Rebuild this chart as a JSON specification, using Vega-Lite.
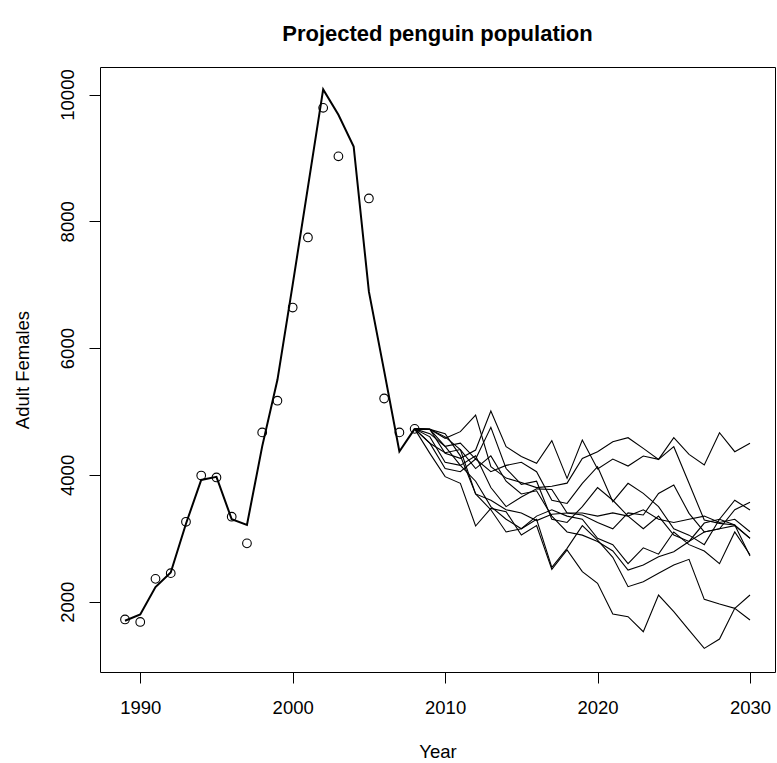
{
  "$schema": "https://vega.github.io/schema/vega-lite/v6.json",
  "autosize": "none",
  "width": 675,
  "height": 605,
  "padding": {"left": 100, "top": 67, "right": 2, "bottom": 91},
  "background": "white",
  "config": {
    "view": {"stroke": "black", "strokeWidth": 1},
    "font": "Liberation Sans",
    "axis": {
      "domain": false, "grid": false, "ticks": true, "tickColor": "black", "tickWidth": 1, "tickSize": 11,
      "labelFont": "Liberation Sans", "labelFontSize": 18.5, "labelColor": "black",
      "titleFont": "Liberation Sans", "titleFontSize": 18.5, "titleFontWeight": "normal", "titleColor": "black"
    }
  },
  "title": {"text": "Projected penguin population", "font": "Liberation Sans", "fontSize": 22, "fontWeight": "bold", "color": "black", "anchor": "middle", "baseline": "alphabetic", "offset": 4},
  "datasets": {
    "obs": [
      {"year": 1989, "females": 1720}, {"year": 1990, "females": 1680}, {"year": 1991, "females": 2360},
      {"year": 1992, "females": 2450}, {"year": 1993, "females": 3260}, {"year": 1994, "females": 3990},
      {"year": 1995, "females": 3960}, {"year": 1996, "females": 3340}, {"year": 1997, "females": 2920},
      {"year": 1998, "females": 4670}, {"year": 1999, "females": 5170}, {"year": 2000, "females": 6640},
      {"year": 2001, "females": 7745}, {"year": 2002, "females": 9790}, {"year": 2003, "females": 9025},
      {"year": 2005, "females": 8360}, {"year": 2006, "females": 5205}, {"year": 2007, "females": 4670},
      {"year": 2008, "females": 4726}
    ],
    "fit": [
      {"year": 1989, "females": 1700}, {"year": 1990, "females": 1800}, {"year": 1991, "females": 2230},
      {"year": 1992, "females": 2460}, {"year": 1993, "females": 3230}, {"year": 1994, "females": 3920},
      {"year": 1995, "females": 3970}, {"year": 1996, "females": 3300}, {"year": 1997, "females": 3210},
      {"year": 1998, "females": 4450}, {"year": 1999, "females": 5500}, {"year": 2000, "females": 7000},
      {"year": 2001, "females": 8540}, {"year": 2002, "females": 10080}, {"year": 2003, "females": 9680},
      {"year": 2004, "females": 9180}, {"year": 2005, "females": 6890}, {"year": 2006, "females": 5640},
      {"year": 2007, "females": 4370}, {"year": 2008, "females": 4726}
    ],
    "sims": [
      {"sim":"A","year":2008,"females":4726},{"sim":"A","year":2009,"females":4718},{"sim":"A","year":2010,"females":4577},{"sim":"A","year":2011,"females":4682},{"sim":"A","year":2012,"females":4944},{"sim":"A","year":2013,"females":4130},{"sim":"A","year":2014,"females":3950},{"sim":"A","year":2015,"females":3880},{"sim":"A","year":2016,"females":3800},{"sim":"A","year":2017,"females":3820},{"sim":"A","year":2018,"females":3870},{"sim":"A","year":2019,"females":4260},{"sim":"A","year":2020,"females":4366},{"sim":"A","year":2021,"females":4524},{"sim":"A","year":2022,"females":4587},{"sim":"A","year":2023,"females":4419},{"sim":"A","year":2024,"females":4245},{"sim":"A","year":2025,"females":4587},{"sim":"A","year":2026,"females":4324},{"sim":"A","year":2027,"females":4156},{"sim":"A","year":2028,"females":4666},{"sim":"A","year":2029,"females":4366},{"sim":"A","year":2030,"females":4498},
      {"sim":"B","year":2008,"females":4726},{"sim":"B","year":2009,"females":4718},{"sim":"B","year":2010,"females":4340},{"sim":"B","year":2011,"females":4261},{"sim":"B","year":2012,"females":4392},{"sim":"B","year":2013,"females":5008},{"sim":"B","year":2014,"females":4445},{"sim":"B","year":2015,"females":4290},{"sim":"B","year":2016,"females":4183},{"sim":"B","year":2017,"females":4540},{"sim":"B","year":2018,"females":3945},{"sim":"B","year":2019,"females":4550},{"sim":"B","year":2020,"females":4093},{"sim":"B","year":2021,"females":4250},{"sim":"B","year":2022,"females":4140},{"sim":"B","year":2023,"females":4298},{"sim":"B","year":2024,"females":4245},{"sim":"B","year":2025,"females":4445},{"sim":"B","year":2026,"females":3867},{"sim":"B","year":2027,"females":3288},{"sim":"B","year":2028,"females":3236},{"sim":"B","year":2029,"females":3210},{"sim":"B","year":2030,"females":3000},
      {"sim":"C","year":2008,"females":4726},{"sim":"C","year":2009,"females":4340},{"sim":"C","year":2010,"females":3972},{"sim":"C","year":2011,"females":3867},{"sim":"C","year":2012,"females":3194},{"sim":"C","year":2013,"females":3472},{"sim":"C","year":2014,"females":3420},{"sim":"C","year":2015,"females":3052},{"sim":"C","year":2016,"females":3200},{"sim":"C","year":2017,"females":2510},{"sim":"C","year":2018,"females":2815},{"sim":"C","year":2019,"females":2474},{"sim":"C","year":2020,"females":2290},{"sim":"C","year":2021,"females":1806},{"sim":"C","year":2022,"females":1764},{"sim":"C","year":2023,"females":1527},{"sim":"C","year":2024,"females":2105},{"sim":"C","year":2025,"females":1843},{"sim":"C","year":2026,"females":1553},{"sim":"C","year":2027,"females":1264},{"sim":"C","year":2028,"females":1411},{"sim":"C","year":2029,"females":1895},{"sim":"C","year":2030,"females":1711},
      {"sim":"D","year":2008,"females":4726},{"sim":"D","year":2009,"females":4718},{"sim":"D","year":2010,"females":4450},{"sim":"D","year":2011,"females":4150},{"sim":"D","year":2012,"females":3900},{"sim":"D","year":2013,"females":3500},{"sim":"D","year":2014,"females":3300},{"sim":"D","year":2015,"females":3150},{"sim":"D","year":2016,"females":3300},{"sim":"D","year":2017,"females":2540},{"sim":"D","year":2018,"females":2842},{"sim":"D","year":2019,"females":3200},{"sim":"D","year":2020,"females":2970},{"sim":"D","year":2021,"females":2700},{"sim":"D","year":2022,"females":2237},{"sim":"D","year":2023,"females":2316},{"sim":"D","year":2024,"females":2447},{"sim":"D","year":2025,"females":2579},{"sim":"D","year":2026,"females":2668},{"sim":"D","year":2027,"females":2037},{"sim":"D","year":2028,"females":1963},{"sim":"D","year":2029,"females":1895},{"sim":"D","year":2030,"females":2105},
      {"sim":"E","year":2008,"females":4726},{"sim":"E","year":2009,"females":4718},{"sim":"E","year":2010,"females":4600},{"sim":"E","year":2011,"females":4400},{"sim":"E","year":2012,"females":4100},{"sim":"E","year":2013,"females":4300},{"sim":"E","year":2014,"females":3900},{"sim":"E","year":2015,"females":3700},{"sim":"E","year":2016,"females":3750},{"sim":"E","year":2017,"females":3350},{"sim":"E","year":2018,"females":3100},{"sim":"E","year":2019,"females":3050},{"sim":"E","year":2020,"females":2950},{"sim":"E","year":2021,"females":2800},{"sim":"E","year":2022,"females":2500},{"sim":"E","year":2023,"females":2578},{"sim":"E","year":2024,"females":2710},{"sim":"E","year":2025,"females":2789},{"sim":"E","year":2026,"females":2950},{"sim":"E","year":2027,"females":3240},{"sim":"E","year":2028,"females":3300},{"sim":"E","year":2029,"females":3210},{"sim":"E","year":2030,"females":2720},
      {"sim":"F","year":2008,"females":4726},{"sim":"F","year":2009,"females":4600},{"sim":"F","year":2010,"females":4200},{"sim":"F","year":2011,"females":4150},{"sim":"F","year":2012,"females":4300},{"sim":"F","year":2013,"females":3800},{"sim":"F","year":2014,"females":3500},{"sim":"F","year":2015,"females":3650},{"sim":"F","year":2016,"females":3780},{"sim":"F","year":2017,"females":3770},{"sim":"F","year":2018,"females":3400},{"sim":"F","year":2019,"females":3367},{"sim":"F","year":2020,"females":3250},{"sim":"F","year":2021,"females":3150},{"sim":"F","year":2022,"females":3400},{"sim":"F","year":2023,"females":3367},{"sim":"F","year":2024,"females":3708},{"sim":"F","year":2025,"females":3840},{"sim":"F","year":2026,"females":3393},{"sim":"F","year":2027,"females":3100},{"sim":"F","year":2028,"females":3150},{"sim":"F","year":2029,"females":3450},{"sim":"F","year":2030,"females":3567},
      {"sim":"G","year":2008,"females":4726},{"sim":"G","year":2009,"females":4500},{"sim":"G","year":2010,"females":4100},{"sim":"G","year":2011,"females":4050},{"sim":"G","year":2012,"females":4250},{"sim":"G","year":2013,"females":4050},{"sim":"G","year":2014,"females":4150},{"sim":"G","year":2015,"females":4200},{"sim":"G","year":2016,"females":4050},{"sim":"G","year":2017,"females":3600},{"sim":"G","year":2018,"females":3550},{"sim":"G","year":2019,"females":3867},{"sim":"G","year":2020,"females":4130},{"sim":"G","year":2021,"females":3577},{"sim":"G","year":2022,"females":3867},{"sim":"G","year":2023,"females":3708},{"sim":"G","year":2024,"females":3500},{"sim":"G","year":2025,"females":3150},{"sim":"G","year":2026,"females":3050},{"sim":"G","year":2027,"females":2900},{"sim":"G","year":2028,"females":3300},{"sim":"G","year":2029,"females":3600},{"sim":"G","year":2030,"females":3446},
      {"sim":"H","year":2008,"females":4726},{"sim":"H","year":2009,"females":4718},{"sim":"H","year":2010,"females":4650},{"sim":"H","year":2011,"females":4300},{"sim":"H","year":2012,"females":3700},{"sim":"H","year":2013,"females":3600},{"sim":"H","year":2014,"females":3450},{"sim":"H","year":2015,"females":3400},{"sim":"H","year":2016,"females":3280},{"sim":"H","year":2017,"females":3380},{"sim":"H","year":2018,"females":3400},{"sim":"H","year":2019,"females":3400},{"sim":"H","year":2020,"females":3350},{"sim":"H","year":2021,"females":3400},{"sim":"H","year":2022,"females":3350},{"sim":"H","year":2023,"females":3450},{"sim":"H","year":2024,"females":3300},{"sim":"H","year":2025,"females":3250},{"sim":"H","year":2026,"females":3300},{"sim":"H","year":2027,"females":3350},{"sim":"H","year":2028,"females":3250},{"sim":"H","year":2029,"females":3300},{"sim":"H","year":2030,"females":3104},
      {"sim":"I","year":2008,"females":4726},{"sim":"I","year":2009,"females":4650},{"sim":"I","year":2010,"females":4450},{"sim":"I","year":2011,"females":4500},{"sim":"I","year":2012,"females":4250},{"sim":"I","year":2013,"females":4750},{"sim":"I","year":2014,"females":4100},{"sim":"I","year":2015,"females":3850},{"sim":"I","year":2016,"females":3900},{"sim":"I","year":2017,"females":3300},{"sim":"I","year":2018,"females":3250},{"sim":"I","year":2019,"females":3500},{"sim":"I","year":2020,"females":3800},{"sim":"I","year":2021,"females":3600},{"sim":"I","year":2022,"females":3350},{"sim":"I","year":2023,"females":3150},{"sim":"I","year":2024,"females":3350},{"sim":"I","year":2025,"females":3050},{"sim":"I","year":2026,"females":2950},{"sim":"I","year":2027,"females":3100},{"sim":"I","year":2028,"females":3150},{"sim":"I","year":2029,"females":3200},{"sim":"I","year":2030,"females":3000},
      {"sim":"J","year":2008,"females":4726},{"sim":"J","year":2009,"females":4500},{"sim":"J","year":2010,"females":4350},{"sim":"J","year":2011,"females":4400},{"sim":"J","year":2012,"females":3700},{"sim":"J","year":2013,"females":3450},{"sim":"J","year":2014,"females":3100},{"sim":"J","year":2015,"females":3150},{"sim":"J","year":2016,"females":3350},{"sim":"J","year":2017,"females":3450},{"sim":"J","year":2018,"females":3350},{"sim":"J","year":2019,"females":3300},{"sim":"J","year":2020,"females":3000},{"sim":"J","year":2021,"females":2900},{"sim":"J","year":2022,"females":2600},{"sim":"J","year":2023,"females":2850},{"sim":"J","year":2024,"females":2750},{"sim":"J","year":2025,"females":3100},{"sim":"J","year":2026,"females":2900},{"sim":"J","year":2027,"females":2800},{"sim":"J","year":2028,"females":2600},{"sim":"J","year":2029,"females":3100},{"sim":"J","year":2030,"females":2740}
    ]
  },
  "encoding": {
    "x": {"field": "year", "type": "quantitative", "scale": {"domain": [1987.36, 2031.64], "nice": false, "zero": false},
      "axis": {"values": [1990, 2000, 2010, 2020, 2030], "format": "d", "labelBaseline": "alphabetic", "labelPadding": 30, "title": "Year", "titleX": 337.5, "titleY": 85, "titleBaseline": "alphabetic", "titleAnchor": null}},
    "y": {"field": "females", "type": "quantitative", "scale": {"domain": [891, 10434], "nice": false, "zero": false},
      "axis": {"values": [2000, 4000, 6000, 8000, 10000], "format": "d", "labelAngle": 270, "labelAlign": "center", "labelBaseline": "alphabetic", "labelPadding": 16, "title": "Adult Females", "titleAngle": 270, "titleX": -72, "titleY": 302.5, "titleAlign": "center", "titleBaseline": "alphabetic"}}
  },
  "layer": [
    {"data": {"name": "sims"}, "mark": {"type": "line", "color": "black", "strokeWidth": 1.1}, "encoding": {"detail": {"field": "sim"}}},
    {"data": {"name": "fit"}, "mark": {"type": "line", "color": "black", "strokeWidth": 2}},
    {"data": {"name": "obs"}, "mark": {"type": "point", "shape": "circle", "filled": false, "stroke": "black", "strokeWidth": 1.1, "size": 75, "opacity": 1}}
  ]
}
